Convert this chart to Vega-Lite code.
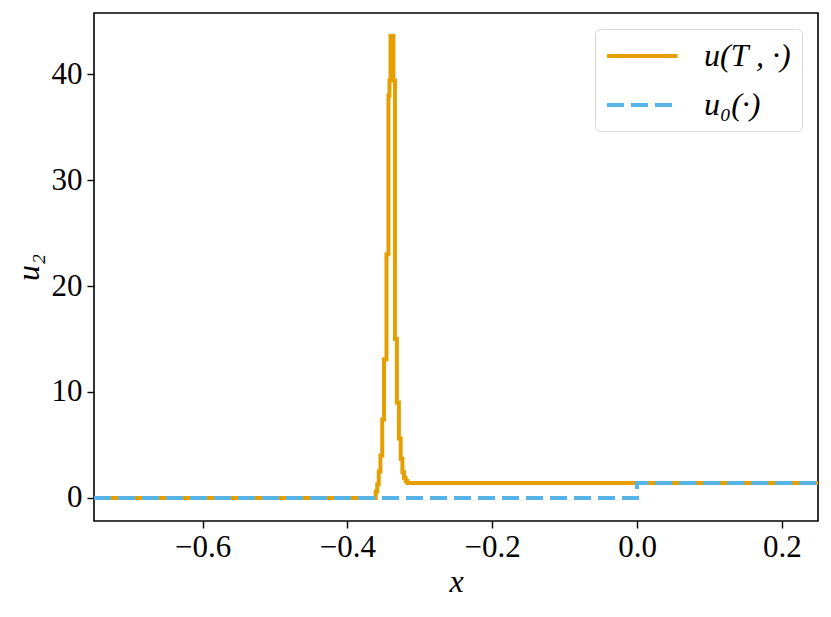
{
  "$schema": "https://vega.github.io/schema/vega-lite/v6.json",
  "width": 724,
  "height": 508,
  "autosize": {"type": "none"},
  "padding": {"left": 94, "top": 13, "right": 13, "bottom": 96},
  "background": "white",
  "config": {
    "view": {"stroke": "black", "strokeWidth": 1.6},
    "font": "Liberation Serif",
    "axis": {
      "grid": false,
      "domain": false,
      "tickColor": "black",
      "tickSize": 7,
      "tickWidth": 1.4,
      "labelFont": "Liberation Serif",
      "labelFontSize": 31,
      "labelColor": "black",
      "titleFont": "Liberation Serif",
      "titleFontSize": 32,
      "titleFontStyle": "italic",
      "titleFontWeight": "normal",
      "titleColor": "black"
    },
    "legend": {
      "labelFont": "Liberation Serif",
      "labelFontSize": 32,
      "labelFontStyle": "italic",
      "labelColor": "black"
    }
  },
  "datasets": {
    "curves": [
      {"series": "u(T , ·)", "x": -0.75, "u": 0},
      {"series": "u(T , ·)", "x": -0.3609, "u": 0.6},
      {"series": "u(T , ·)", "x": -0.3588, "u": 1.3},
      {"series": "u(T , ·)", "x": -0.3567, "u": 2.5},
      {"series": "u(T , ·)", "x": -0.3544, "u": 4.0},
      {"series": "u(T , ·)", "x": -0.3519, "u": 7.4},
      {"series": "u(T , ·)", "x": -0.3494, "u": 13.1},
      {"series": "u(T , ·)", "x": -0.3460, "u": 23.0},
      {"series": "u(T , ·)", "x": -0.3433, "u": 38.0},
      {"series": "u(T , ·)", "x": -0.3419, "u": 39.4},
      {"series": "u(T , ·)", "x": -0.3405, "u": 43.6},
      {"series": "u(T , ·)", "x": -0.3364, "u": 39.4},
      {"series": "u(T , ·)", "x": -0.3343, "u": 15.0},
      {"series": "u(T , ·)", "x": -0.3317, "u": 9.0},
      {"series": "u(T , ·)", "x": -0.3289, "u": 5.6},
      {"series": "u(T , ·)", "x": -0.3264, "u": 3.7},
      {"series": "u(T , ·)", "x": -0.3240, "u": 2.45},
      {"series": "u(T , ·)", "x": -0.3219, "u": 1.9},
      {"series": "u(T , ·)", "x": -0.3196, "u": 1.6},
      {"series": "u(T , ·)", "x": -0.3172, "u": 1.4},
      {"series": "u(T , ·)", "x": 0.25, "u": 1.4},
      {"series": "u₀(·)", "x": -0.75, "u": 0},
      {"series": "u₀(·)", "x": 0.0, "u": 1.4},
      {"series": "u₀(·)", "x": 0.25, "u": 1.4}
    ]
  },
  "data": {"name": "curves"},
  "encoding": {
    "x": {
      "field": "x",
      "type": "quantitative",
      "scale": {"domain": [-0.75, 0.25], "nice": false, "zero": false},
      "axis": {"values": [-0.6, -0.4, -0.2, 0, 0.2], "format": ".1f", "title": "x", "labelPadding": 4, "titlePadding": 4}
    },
    "y": {
      "field": "u",
      "type": "quantitative",
      "scale": {"domain": [-2.18, 45.78], "nice": false, "zero": false},
      "axis": {"values": [0, 10, 20, 30, 40], "format": "d", "title": "u₂", "labelPadding": 5, "titlePadding": 6}
    },
    "color": {
      "field": "series",
      "type": "nominal",
      "scale": {"domain": ["u(T , ·)", "u₀(·)"], "range": ["#E69F00", "#56B4E9"]},
      "legend": {
        "title": null,
        "orient": "top-right",
        "offset": 16,
        "fillColor": "white",
        "strokeColor": "#d9d9d9",
        "cornerRadius": 5,
        "padding": 10,
        "rowPadding": 16,
        "symbolType": "M-1,0H3.7",
        "symbolSize": 900,
        "symbolStrokeWidth": 4,
        "symbolFillColor": "transparent",
        "labelOffset": 65
      }
    },
    "strokeDash": {
      "field": "series",
      "type": "nominal",
      "scale": {"domain": ["u(T , ·)", "u₀(·)"], "range": [[1, 0], [17, 7]]},
      "legend": null
    }
  },
  "layer": [
    {
      "transform": [{"filter": "datum.series === 'u(T , ·)'"}],
      "mark": {"type": "line", "interpolate": "step-after", "strokeWidth": 4, "clip": true}
    },
    {
      "transform": [{"filter": "datum.series === 'u₀(·)'"}],
      "mark": {"type": "line", "interpolate": "step-after", "strokeWidth": 4, "clip": true}
    }
  ]
}
